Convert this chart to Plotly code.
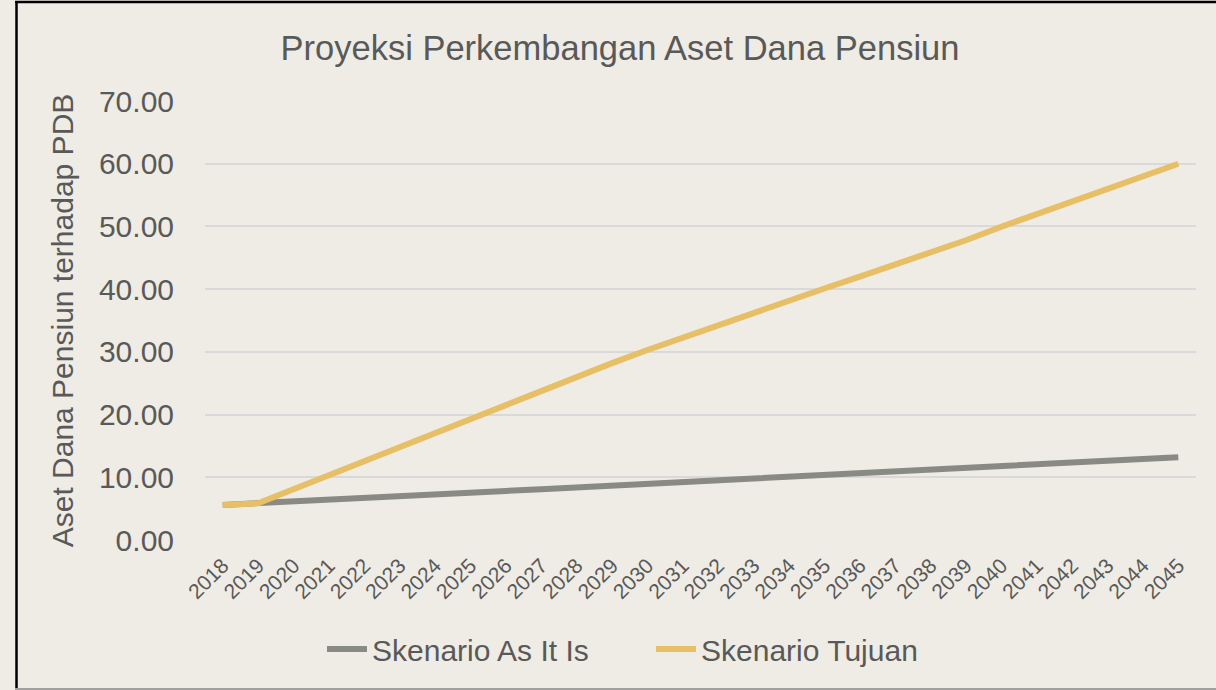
import plotly.graph_objects as go

years = [str(y) for y in range(2018, 2046)]
as_it_is = [5.60, 5.85, 6.13, 6.41, 6.70, 6.98, 7.26, 7.55, 7.83, 8.11, 8.39, 8.68, 8.96, 9.24,
            9.53, 9.81, 10.09, 10.37, 10.66, 10.94, 11.22, 11.51, 11.79, 12.07, 12.35, 12.64, 12.92, 13.20]
tujuan = [5.60, 5.85, 8.10, 10.35, 12.60, 14.85, 17.10, 19.35, 21.60, 23.80, 26.00, 28.20, 30.30, 32.30,
          34.30, 36.25, 38.20, 40.10, 42.00, 43.90, 45.85, 47.80, 49.95, 52.00, 54.00, 56.00, 58.00, 60.00]
y_ticks = [0, 10, 20, 30, 40, 50, 60, 70]

BG = "#EEECE4"
TXT = "#595959"
GRAY = "#898A83"
GOLD = "#E7BF66"
FONT = "Liberation Sans, Arial, sans-serif"

fig = go.Figure()
fig.add_trace(go.Scatter(x=years, y=as_it_is, mode="lines", name="Skenario As It Is",
                         line=dict(color=GRAY, width=6)))
fig.add_trace(go.Scatter(x=years, y=tujuan, mode="lines", name="Skenario Tujuan",
                         line=dict(color=GOLD, width=6)))

W, H = 1216, 690
ml, mr, mt, mb = 205, 20, 101, 150
pw, ph = W - ml - mr, H - mt - mb


def px(x):
    return (x - ml) / pw


def py(y):
    return (H - mb - y) / ph


fig.update_layout(
    width=W, height=H,
    margin=dict(l=ml, r=mr, t=mt, b=mb),
    paper_bgcolor=BG, plot_bgcolor=BG,
    title=dict(text="Proyeksi Perkembangan Aset Dana Pensiun",
               font=dict(family=FONT, size=34.5, color=TXT),
               x=620 / W, xanchor="center", y=1 - 48 / H, yanchor="middle"),
    showlegend=True,
    legend=dict(orientation="h", x=px(322), xanchor="left", y=py(649), yanchor="middle",
                font=dict(family=FONT, size=30, color=TXT),
                bgcolor="rgba(0,0,0,0)", itemwidth=40, tracegroupgap=0,
                entrywidth=274, entrywidthmode="pixels"),
    xaxis=dict(type="category", range=[-0.5, 27.5], showgrid=False, zeroline=False,
               showline=False, tickangle=-45,
               tickfont=dict(family=FONT, size=21, color=TXT),
               ticks="outside", ticklen=4, tickcolor="rgba(0,0,0,0)"),
    yaxis=dict(range=[0, 70], tickvals=y_ticks, ticktext=[f"{v:.2f}" for v in y_ticks],
               showgrid=True, gridcolor="#D9D9D9", gridwidth=2, zeroline=False,
               showline=False,
               tickfont=dict(family=FONT, size=30, color=TXT),
               ticks="outside", ticklen=24, tickcolor="rgba(0,0,0,0)",
               title=dict(text="Aset Dana Pensiun terhadap PDB", standoff=16,
                          font=dict(family=FONT, size=30, color=TXT))),
    shapes=[
        dict(type="line", xref="paper", yref="paper", x0=px(15), x1=px(1230), y0=py(2), y1=py(2),
             line=dict(color="black", width=2.5)),
        dict(type="line", xref="paper", yref="paper", x0=px(16.5), x1=px(16.5), y0=py(1), y1=py(689),
             line=dict(color="black", width=2.5)),
        dict(type="line", xref="paper", yref="paper", x0=px(15), x1=px(1230), y0=py(689), y1=py(689),
             line=dict(color="#A0A0A0", width=2)),
    ],
)

fig.write_html(
    "out.html",
    config={"displayModeBar": False},
    post_script="document.body.style.margin='0px';document.body.style.overflow='hidden';"
                "document.body.style.background='" + BG + "';",
)
